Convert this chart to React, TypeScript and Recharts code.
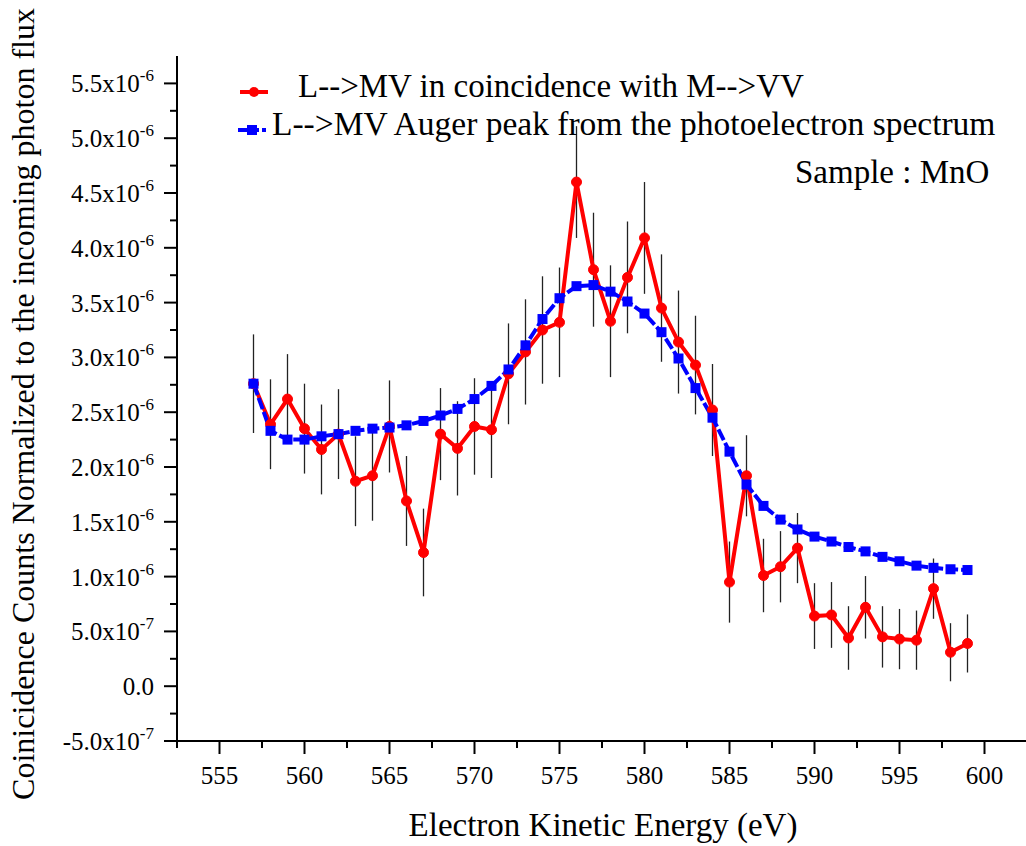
import React from 'react';
import { LineChart, Line, XAxis, YAxis, ErrorBar, Legend } from 'recharts';

// Electron kinetic energy (eV)
const energy = [557, 558, 559, 560, 561, 562, 563, 564, 565, 566, 567, 568, 569, 570, 571, 572, 573, 574, 575, 576, 577, 578, 579, 580, 581, 582, 583, 584, 585, 586, 587, 588, 589, 590, 591, 592, 593, 594, 595, 596, 597, 598, 599];

// L-->MV in coincidence with M-->VV (units of 1e-6)
const coincidence = [2.76, 2.39, 2.62, 2.35, 2.16, 2.30, 1.87, 1.92, 2.37, 1.69, 1.22, 2.30, 2.17, 2.37, 2.34, 2.85, 3.05, 3.25, 3.32, 4.60, 3.80, 3.33, 3.73, 4.09, 3.45, 3.14, 2.93, 2.52, 0.95, 1.92, 1.01, 1.09, 1.26, 0.64, 0.65, 0.44, 0.72, 0.45, 0.43, 0.42, 0.89, 0.31, 0.39];

// error (units of 1e-6)
const coincidenceErr = [0.45, 0.41, 0.41, 0.41, 0.41, 0.41, 0.41, 0.41, 0.42, 0.41, 0.40, 0.42, 0.43, 0.44, 0.44, 0.46, 0.48, 0.49, 0.50, 0.51, 0.52, 0.51, 0.51, 0.51, 0.49, 0.47, 0.45, 0.42, 0.37, 0.37, 0.335, 0.325, 0.32, 0.30, 0.30, 0.29, 0.285, 0.28, 0.275, 0.27, 0.275, 0.265, 0.265];

// L-->MV Auger peak from the photoelectron spectrum (units of 1e-6)
const auger = [2.76, 2.33, 2.25, 2.25, 2.28, 2.30, 2.33, 2.35, 2.36, 2.38, 2.42, 2.47, 2.53, 2.62, 2.74, 2.89, 3.11, 3.35, 3.54, 3.65, 3.66, 3.60, 3.51, 3.40, 3.23, 2.99, 2.72, 2.45, 2.14, 1.84, 1.645, 1.52, 1.43, 1.365, 1.32, 1.27, 1.23, 1.18, 1.14, 1.10, 1.08, 1.067, 1.06];

const xTicks = [552.5, 555, 557.5, 560, 562.5, 565, 567.5, 570, 572.5, 575, 577.5, 580, 582.5, 585, 587.5, 590, 592.5, 595, 597.5, 600, 602.5];
const yTicks = [-0.5, -0.25, 0, 0.25, 0.5, 0.75, 1, 1.25, 1.5, 1.75, 2, 2.25, 2.5, 2.75, 3, 3.25, 3.5, 3.75, 4, 4.25, 4.5, 4.75, 5, 5.25, 5.5];

const seriesNames = ['L-->MV in coincidence with M-->VV', 'L-->MV Auger peak from the photoelectron spectrum'];
const sampleText = 'Sample : MnO';
const xTitle = 'Electron Kinetic Energy (eV)';
const yTitle = 'Coinicidence Counts Normalized to the incoming photon flux';

const data = energy.map((x, i) => ({ x, red: coincidence[i], err: coincidenceErr[i], blue: auger[i] }));

const FONT = '"Liberation Serif", "Times New Roman", serif';
const RED = '#ff0000';
const BLUE = '#0000ff';

const isMult = (v: number, m: number) => Math.abs(v / m - Math.round(v / m)) < 1e-9;

function yLabel(v: number): { mant: string; exp: string | null } {
  if (Math.abs(v) < 1e-12) return { mant: '0.0', exp: null };
  if (Math.abs(v) < 1) return { mant: (v * 10).toFixed(1) + 'x10', exp: '-7' };
  return { mant: v.toFixed(1) + 'x10', exp: '-6' };
}

const XTick = (props: any) => {
  const { x, y, payload } = props;
  const v = payload.value;
  const major = isMult(v, 5);
  return (
    <g>
      <line x1={x} x2={x} y1={y} y2={y + (major ? 13 : 7)} stroke="#000" strokeWidth={2} />
      {major && (
        <text x={x} y={y + 43} textAnchor="middle" fontSize={25} fontFamily={FONT} fill="#000">
          {v}
        </text>
      )}
    </g>
  );
};

const TopTick = (props: any) => {
  const { x, y, payload } = props;
  const major = isMult(payload.value, 5);
  return <line x1={x} x2={x} y1={y} y2={y + (major ? 4 : 3)} stroke="#000" strokeWidth={1.5} />;
};

const YTick = (props: any) => {
  const { x, y, payload } = props;
  const v = payload.value;
  const major = isMult(v, 0.5);
  const lab = yLabel(v);
  return (
    <g>
      <line x1={x} x2={x - (major ? 13 : 7)} y1={y} y2={y} stroke="#000" strokeWidth={2} />
      {major && (
        <text x={x - 23} y={y + 9} textAnchor="end" fontSize={25} fontFamily={FONT} fill="#000">
          <tspan>{lab.mant}</tspan>
          {lab.exp && (
            <tspan dy={-11} fontSize={17}>
              {lab.exp}
            </tspan>
          )}
        </text>
      )}
    </g>
  );
};

const XTitle = () => (
  <text x={603} y={836} textAnchor="middle" fontSize={33} fontFamily={FONT} fill="#000">
    {xTitle}
  </text>
);

const YTitle = () => (
  <text
    x={34}
    y={404}
    transform="rotate(-90 34 404)"
    textAnchor="middle"
    fontSize={32}
    fontFamily={FONT}
    fill="#000"
  >
    {yTitle}
  </text>
);

const BlueSquare = (props: any) => {
  const { cx, cy, index } = props;
  if (cx == null || cy == null) return <g key={`sq-${index}`} />;
  return <rect key={`sq-${index}`} x={cx - 5} y={cy - 5} width={10} height={10} fill={BLUE} />;
};

const LegendBox = () => (
  <svg width={800} height={140} style={{ display: 'block', overflow: 'visible' }}>
    <line x1={20} x2={48} y1={32} y2={32} stroke={RED} strokeWidth={4} />
    <circle cx={34} cy={32} r={5} fill={RED} />
    <text x={78} y={37} fontSize={33} fontFamily={FONT} fill="#000">
      {seriesNames[0]}
    </text>
    <line x1={18} x2={46} y1={70} y2={70} stroke={BLUE} strokeWidth={4} strokeDasharray="9 3" />
    <rect x={27} y={65} width={10} height={10} fill={BLUE} />
    <text x={52} y={75} fontSize={33.5} fontFamily={FONT} fill="#000">
      {seriesNames[1]}
    </text>
    <text x={575} y={123} fontSize={33} fontFamily={FONT} fill="#000">
      {sampleText}
    </text>
  </svg>
);

export default function App() {
  return (
    <div
      style={{
        position: 'fixed',
        left: 0,
        top: 0,
        width: 1026,
        height: 846,
        overflow: 'hidden',
        background: '#fff',
      }}
    >
      <LineChart width={1027} height={846} data={data} margin={{ top: 56, right: 0, bottom: 0, left: 0 }}>
        <XAxis
          xAxisId="b"
          dataKey="x"
          type="number"
          domain={[552.5, 602.5]}
          allowDataOverflow
          ticks={xTicks}
          interval={0}
          tickSize={0}
          tickMargin={0}
          tickLine={false}
          tick={<XTick />}
          height={105}
          axisLine={{ stroke: '#000', strokeWidth: 2 }}
          label={<XTitle />}
        />
        <XAxis
          xAxisId="t"
          orientation="top"
          dataKey="x"
          type="number"
          domain={[552.5, 602.5]}
          allowDataOverflow
          ticks={xTicks}
          interval={0}
          tickSize={0}
          tickMargin={0}
          tickLine={false}
          tick={<TopTick />}
          height={0}
          axisLine={{ stroke: '#000', strokeWidth: 2 }}
        />
        <YAxis
          yAxisId="l"
          type="number"
          domain={[-0.5, 5.75]}
          allowDataOverflow
          ticks={yTicks}
          interval={0}
          width={177}
          tickSize={0}
          tickMargin={0}
          tickLine={false}
          tick={<YTick />}
          axisLine={{ stroke: '#000', strokeWidth: 2 }}
          label={<YTitle />}
        />
        <Legend
          layout="vertical"
          align="center"
          verticalAlign="middle"
          wrapperStyle={{ position: 'absolute', left: 220, top: 60, width: 800, height: 140 }}
          content={() => <LegendBox />}
        />
        <Line
          xAxisId="b"
          yAxisId="l"
          type="linear"
          dataKey="red"
          name={seriesNames[0]}
          stroke={RED}
          strokeWidth={4}
          dot={{ r: 5, fill: RED, stroke: RED, strokeWidth: 1 }}
          activeDot={false}
          isAnimationActive={false}
        >
          <ErrorBar dataKey="err" direction="y" width={0} stroke="#222" strokeWidth={1.3} />
        </Line>
        <Line
          xAxisId="b"
          yAxisId="l"
          type="linear"
          dataKey="blue"
          name={seriesNames[1]}
          stroke={BLUE}
          strokeWidth={4}
          strokeDasharray="12 3"
          dot={<BlueSquare />}
          activeDot={false}
          isAnimationActive={false}
        />
      </LineChart>
    </div>
  );
}
